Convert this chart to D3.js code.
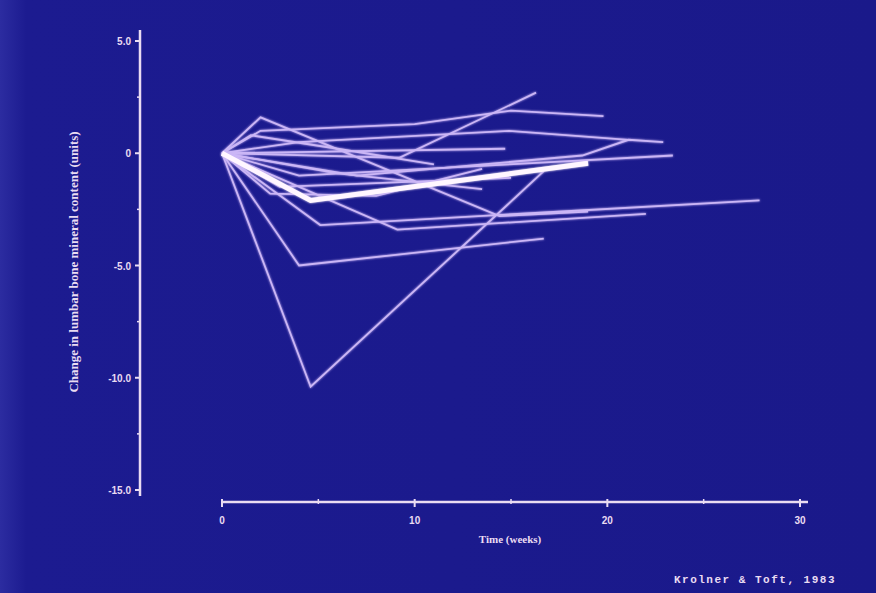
<!DOCTYPE html>
<html>
<head>
<meta charset="utf-8">
<script src="https://cdn.jsdelivr.net/npm/d3@7"></script>
<style>
  html,body{margin:0;padding:0;background:#1b1a8e;}
  svg{display:block;}
</style>
</head>
<body>
<svg id="chart"></svg>
<script>
// data: each patient as [week, change]
const subjects=[
    [[0,0],[4.6,-10.4],[16.7,-0.8]],
    [[0,0],[4.0,-5.0],[16.7,-3.8]],
    [[0,0],[5.1,-3.2],[27.9,-2.1]],
    [[0,0],[9.1,-3.4],[22.0,-2.7]],
    [[0,0],[2.0,1.6],[14.4,-2.8],[19.0,-2.6]],
    [[0,0],[9.2,-0.2],[16.3,2.7]],
    [[0,0],[2.0,1.0],[10.0,1.3],[15.0,1.9],[19.8,1.65]],
    [[0,0],[14.7,0.2]],
    [[0,0],[7.0,-1.0],[18.7,-0.1],[21.1,0.6],[22.9,0.5]],
    [[0,0],[4.0,0.5],[14.9,1.0],[21.1,0.6]],
    [[0,0],[4.0,-1.0],[23.4,-0.1]],
    [[0,0],[1.5,0.8],[6.0,0.2],[11.0,-0.5]],
    [[0,0],[3.0,-1.5],[9.0,-1.3],[15.0,-1.1]],
    [[0,0],[6.0,-0.9],[13.5,-1.6]],
    [[0,0],[2.5,-1.8],[8.0,-1.9],[13.5,-0.7]]
]
const mean_line=[[0,0],[4.6,-2.1],[19.0,-0.45]]

const x_ticks=[0,10,20,30]
const x_minor=[5,15,25]
const y_ticks=[5,0,-5,-10,-15]
const y_tick_labels=['5.0','0','-5.0','-10.0','-15.0']
const y_minor=[2.5,-2.5,-7.5,-12.5]

const win={w:876,h:593}
const dom={}

dom.svg=d3.select('#chart')
    .attr('width',win.w)
    .attr('height',win.h)

// background, a bit lighter on the left edge like the photographed slide
const defs=dom.svg.append('defs')
const grad=defs.append('linearGradient').attr('id','bg').attr('x1','0%').attr('x2','100%')
grad.append('stop').attr('offset','0%').attr('stop-color','#2c2ca0')
grad.append('stop').attr('offset','3%').attr('stop-color','#1c1b90')
grad.append('stop').attr('offset','100%').attr('stop-color','#1a198a')

const glow=defs.append('filter').attr('id','glow').attr('x','-10%').attr('y','-10%').attr('width','120%').attr('height','120%')
glow.append('feGaussianBlur').attr('stdDeviation',1.3).attr('result','b')
const merge=glow.append('feMerge')
merge.append('feMergeNode').attr('in','b')
merge.append('feMergeNode').attr('in','SourceGraphic')

dom.svg.append('rect').attr('width',win.w).attr('height',win.h).attr('fill','url(#bg)')

const x=d3.scaleLinear().domain([0,30]).range([222,800])
const y=d3.scaleLinear().domain([-15,5]).range([490,41])

const line=d3.line().x(d=>x(d[0])).y(d=>y(d[1]))

const axis_col='#eadcf2'
const font='"Liberation Sans", Arial, sans-serif'

// y axis
const g_y=dom.svg.append('g').attr('transform',`translate(140,0)`)
g_y.append('line').attr('y1',30).attr('y2',496).attr('stroke',axis_col).attr('stroke-width',2.5)
g_y.selectAll('.maj').data(y_ticks).join('line').attr('class','maj')
    .attr('x1',-5).attr('x2',0).attr('y1',d=>y(d)).attr('y2',d=>y(d))
    .attr('stroke',axis_col).attr('stroke-width',2)
g_y.selectAll('.min').data(y_minor).join('line').attr('class','min')
    .attr('x1',-3).attr('x2',0).attr('y1',d=>y(d)).attr('y2',d=>y(d))
    .attr('stroke',axis_col).attr('stroke-width',1.5)
g_y.selectAll('text').data(y_ticks).join('text')
    .attr('x',-9).attr('y',d=>y(d)+4)
    .attr('text-anchor','end')
    .attr('fill',axis_col)
    .style('font',`bold 10px ${font}`)
    .text((d,i)=>y_tick_labels[i])

// x axis
const g_x=dom.svg.append('g').attr('transform',`translate(0,502)`)
g_x.append('line').attr('x1',x(0)).attr('x2',808).attr('stroke',axis_col).attr('stroke-width',2.5)
g_x.selectAll('.maj').data(x_ticks).join('line').attr('class','maj')
    .attr('x1',d=>x(d)).attr('x2',d=>x(d)).attr('y1',-3).attr('y2',5)
    .attr('stroke',axis_col).attr('stroke-width',2)
g_x.selectAll('.min').data(x_minor).join('line').attr('class','min')
    .attr('x1',d=>x(d)).attr('x2',d=>x(d)).attr('y1',-3).attr('y2',2)
    .attr('stroke',axis_col).attr('stroke-width',1.5)
g_x.selectAll('text').data(x_ticks).join('text')
    .attr('x',d=>x(d)).attr('y',22)
    .attr('text-anchor','middle')
    .attr('fill',axis_col)
    .style('font',`bold 10px ${font}`)
    .text(d=>d)

// axis titles
dom.svg.append('text')
    .attr('transform','translate(78,262) rotate(-90)')
    .attr('text-anchor','middle')
    .attr('fill',axis_col)
    .style('font',`bold 13px "Liberation Serif", "Times New Roman", serif`)
    .text('Change in lumbar bone mineral content (units)')

dom.svg.append('text')
    .attr('x',510).attr('y',543)
    .attr('text-anchor','middle')
    .attr('fill',axis_col)
    .style('font',`bold 11px "Liberation Serif", "Times New Roman", serif`)
    .text('Time (weeks)')

dom.svg.append('text')
    .attr('x',836).attr('y',583)
    .attr('text-anchor','end')
    .attr('fill',axis_col)
    .style('font',`bold 11px "Liberation Mono", "DejaVu Sans Mono", monospace`)
    .style('letter-spacing','1.5px')
    .text('Krolner & Toft, 1983')

// patient lines
const g_lines=dom.svg.append('g').attr('filter','url(#glow)')
g_lines.selectAll('path.subj').data(subjects).join('path')
    .attr('class','subj')
    .attr('d',line)
    .attr('fill','none')
    .attr('stroke','#cbb6f6')
    .attr('stroke-width',1.8)
    .attr('stroke-linejoin','miter')

g_lines.append('path')
    .datum(mean_line)
    .attr('d',line)
    .attr('fill','none')
    .attr('stroke','#fff6ff')
    .attr('stroke-width',5)
</script>
</body>
</html>
